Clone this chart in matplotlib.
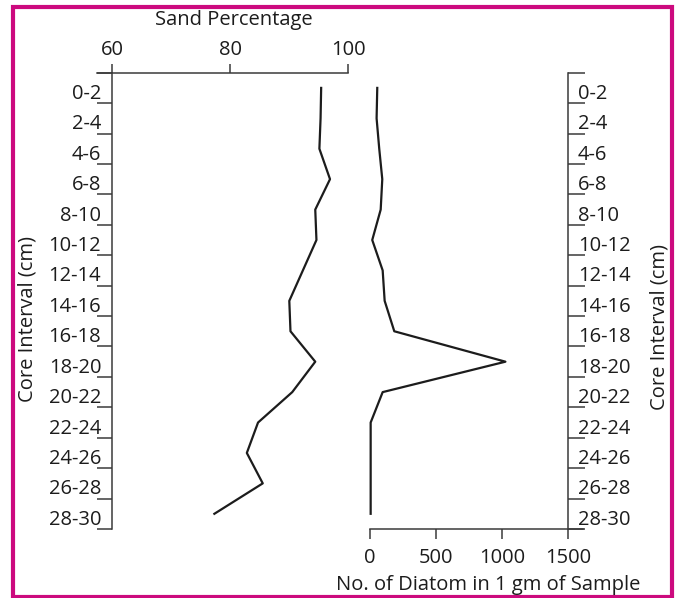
import matplotlib
matplotlib.use("Agg")
import matplotlib.pyplot as plt
import matplotlib.transforms as mtransforms
from matplotlib.patches import Rectangle
import numpy as np

plt.rcParams['font.family'] = ['Open Sans', 'DejaVu Sans']

# ---- data ----
intervals = ["0-2", "2-4", "4-6", "6-8", "8-10", "10-12", "12-14", "14-16",
             "16-18", "18-20", "20-22", "22-24", "24-26", "26-28", "28-30"]
sand_pct = [95.4, 95.3, 95.1, 96.9, 94.4, 94.6, 92.3, 90.0, 90.2, 94.4,
            90.5, 84.7, 82.8, 85.5, 77.3]
diatom_count = [55, 50, 70, 93, 81, 17, 96, 111, 184, 1026, 96, 5, 5, 5, 5]
sand_ticks = [60, 80, 100]
diatom_ticks = [0, 500, 1000, 1500]

W, H = 681, 598
fig = plt.figure(figsize=(W / 100, H / 100), dpi=100)

ink = '#1c1c1c'
axc = '#3a3a3a'
fs = 14.5

depth_top = 0
depth_bot = 2 * len(intervals)
centers = np.arange(len(intervals)) * 2 + 1
bounds = np.arange(0, depth_bot + 1, 2)

y_top_px, y_bot_px = 72.7, 529.0
def fy(p):
    return (H - p) / H

# ---- Sand axes ----
ax1_l, ax1_r = 96.7, 348.3
sand_px_per = (348.3 - 112.3) / 40.0
sand_lo = 60 - (112.3 - ax1_l) / sand_px_per
ax1 = fig.add_axes([ax1_l / W, fy(y_bot_px), (ax1_r - ax1_l) / W, fy(y_top_px) - fy(y_bot_px)])
ax1.set_xlim(sand_lo, 100)
ax1.set_ylim(depth_bot, depth_top)
ax1.plot(sand_pct, centers, color=ink, lw=1.6, clip_on=False)
for s in ['right', 'bottom']:
    ax1.spines[s].set_visible(False)
ax1.spines['left'].set_position(('data', 60))
for s in ['left', 'top']:
    ax1.spines[s].set_color(axc)
    ax1.spines[s].set_linewidth(1.1)
ax1.xaxis.tick_top()
ax1.set_xticks(sand_ticks)
ax1.set_xticklabels([str(t) for t in sand_ticks], fontsize=fs, color=ink)
ax1.tick_params(axis='x', direction='out', length=6.5, width=1.1, color=axc, pad=3)
ax1.set_yticks(bounds)
ax1.set_yticklabels([])
ax1.set_yticks(centers, minor=True)
ax1.set_yticklabels(intervals, minor=True, fontsize=fs, color=ink)
ax1.tick_params(axis='y', which='major', direction='out', length=11, width=1.1, color=axc)
ax1.tick_params(axis='y', which='minor', length=0, pad=8)
ax1.patch.set_visible(False)

# ---- Diatom axes ----
ax2_l = 370.0
dia_px_per = (568.0 - 370.0) / 1500.0
ax2_r = 583.0
dia_hi = (ax2_r - ax2_l) / dia_px_per
ax2 = fig.add_axes([ax2_l / W, fy(y_bot_px), (ax2_r - ax2_l) / W, fy(y_top_px) - fy(y_bot_px)])
ax2.set_xlim(0, dia_hi)
ax2.set_ylim(depth_bot, depth_top)
ax2.plot(diatom_count, centers, color=ink, lw=1.6, clip_on=False)
for s in ['left', 'top']:
    ax2.spines[s].set_visible(False)
ax2.spines['right'].set_position(('data', 1500))
for s in ['right', 'bottom']:
    ax2.spines[s].set_color(axc)
    ax2.spines[s].set_linewidth(1.1)
ax2.set_xticks(diatom_ticks)
ax2.set_xticklabels([str(t) for t in diatom_ticks], fontsize=fs, color=ink)
ax2.tick_params(axis='x', direction='out', length=7.5, width=1.1, color=axc, pad=6)
ax2.yaxis.tick_right()
ax2.set_yticks(bounds)
ax2.set_yticklabels([])
ax2.set_yticks(centers, minor=True)
ax2.set_yticklabels(intervals, minor=True, fontsize=fs, color=ink)
ax2.tick_params(axis='y', which='major', direction='out', length=12, width=1.1, color=axc)
ax2.tick_params(axis='y', which='minor', length=0, pad=7)
ax2.patch.set_visible(False)

# shift interval labels slightly downward
off = mtransforms.ScaledTranslation(0, -3.5 / 100, fig.dpi_scale_trans)
for ax in (ax1, ax2):
    for t in ax.yaxis.get_minor_ticks():
        t.label1.set_transform(t.label1.get_transform() + off)
        t.label2.set_transform(t.label2.get_transform() + off)

# ---- axis titles ----
fig.text(234 / W, fy(20), "Sand Percentage", ha='center', va='center', fontsize=fs, color=ink)
fig.text(488 / W, fy(585), "No. of Diatom in 1 gm of Sample", ha='center', va='center', fontsize=fs, color=ink)
fig.text(27 / W, fy(319), "Core Interval (cm)", ha='center', va='center', rotation=90, fontsize=fs, color=ink)
fig.text(660 / W, fy(327), "Core Interval (cm)", ha='center', va='center', rotation=90, fontsize=fs, color=ink)

# ---- magenta frame ----
fig.patches.append(Rectangle((13 / W, fy(596.5)), (672 - 13) / W, (596.5 - 7) / H,
                             transform=fig.transFigure, fill=False,
                             edgecolor='#cc0a7e', linewidth=3))

fig.savefig("out.png", dpi=100)
